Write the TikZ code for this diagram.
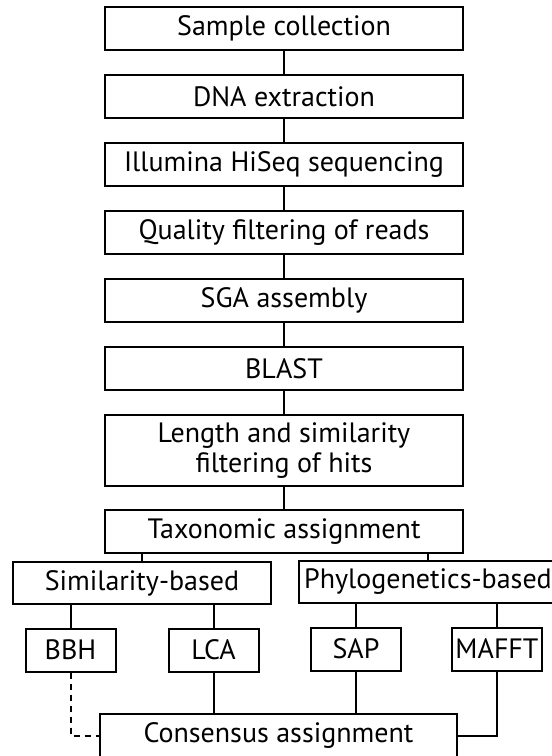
\documentclass[tikz,border=0pt]{standalone}
\usepackage{fontspec}
\setmainfont{PT Sans}
\usetikzlibrary{positioning}

\begin{document}
\begin{tikzpicture}[x=1pt,y=-1pt,
    stage/.style={draw,line width=2pt,align=center,inner sep=0pt,
      minimum width=358pt,minimum height=43pt,
      font=\fontsize{28}{30}\selectfont},
    group/.style={draw,line width=2pt,inner sep=0pt,
      minimum width=258pt,minimum height=42pt,
      font=\fontsize{28}{30}\selectfont},
    method/.style={draw,line width=2pt,inner sep=0pt,
      minimum width=90pt,minimum height=43pt,
      font=\fontsize{28}{30}\selectfont},
    link/.style={line width=2pt},
    node distance=23pt
  ]
    \clip (0,0) rectangle (552,756);
    \node[stage] (sample) at (284,28.5) {Sample collection};
    \node[stage,below=of sample] (dna) {DNA extraction};
    \node[stage,below=of dna] (hiseq) {Illumina HiSeq sequencing};
    \node[stage,below=of hiseq] (quality) {Quality filtering of reads};
    \node[stage,below=of quality] (sga) {SGA assembly};
    \node[stage,below=of sga] (blast) {BLAST};
    \node[stage,minimum height=71pt,below=of blast] (hits) {
      Length and similarity\\filtering of hits};
    \node[stage,below=22pt of hits] (taxo) {Taxonomic assignment};

    \node[group] (sim) at (142,583) {Similarity-based};
    \node[group] (phylo) at (428,582) {Phylogenetics-based};

    \node[method] (bbh) at (70.5,650) {BBH};
    \node[method] (lca) at (213.5,650) {LCA};
    \node[method] (sap) at (356,649) {SAP};
    \node[method] (mafft) at (497,649) {MAFFT};

    \node[stage,minimum width=357pt] (cons) at (278.5,735.5) {Consensus assignment};

    \draw[link] (sample) -- (dna);
    \draw[link] (dna) -- (hiseq);
    \draw[link] (hiseq) -- (quality);
    \draw[link] (quality) -- (sga);
    \draw[link] (sga) -- (blast);
    \draw[link] (blast) -- (hits);
    \draw[link] (hits) -- (taxo);
    \draw[link] (sim.north) -- (sim.north |- taxo.south);
    \draw[link] (phylo.north) -- (phylo.north |- taxo.south);
    \draw[link] (bbh.north) -- (bbh.north |- sim.south);
    \draw[link] (lca.north) -- (lca.north |- sim.south);
    \draw[link] (sap.north) -- (sap.north |- phylo.south);
    \draw[link] (mafft.north) -- (mafft.north |- phylo.south);
    \draw[link] (lca.south) -- (lca.south |- cons.north);
    \draw[link] (sap.south) -- (sap.south |- cons.north);
    \draw[link] (mafft.south) |- (cons.east);
    \draw[link,dash pattern=on 6pt off 5pt] (bbh.south) |- (cons.west);
  \end{tikzpicture}
\end{document}
